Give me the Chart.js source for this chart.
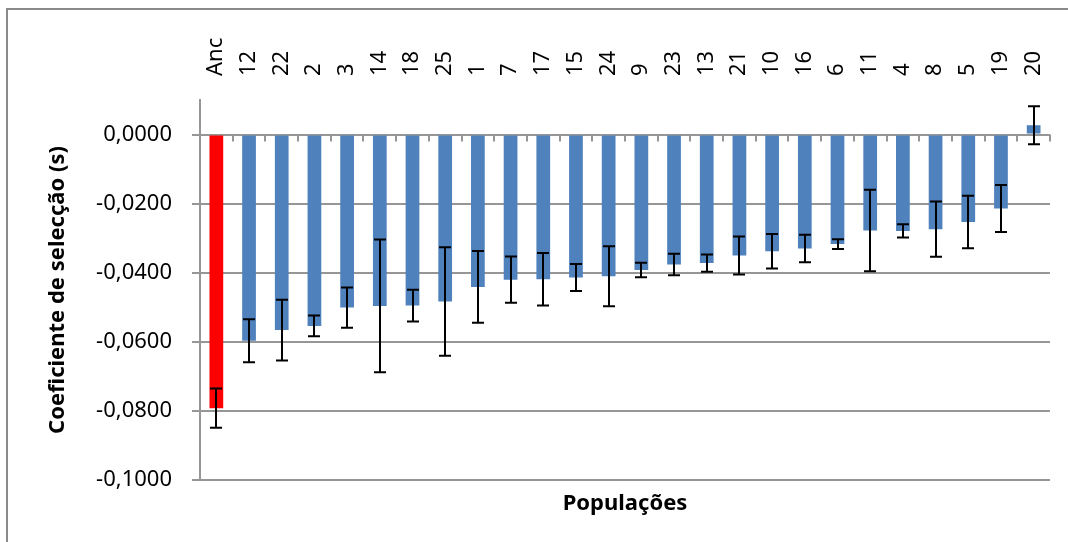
<!DOCTYPE html>
<html>
<head>
<meta charset="utf-8">
<title>Coeficiente de selecção</title>
<script src="https://cdn.jsdelivr.net/npm/chart.js"></script>
<style>
html, body { margin:0; padding:0; background:#fff; }
#wrap { width:1068px; height:542px; }
</style>
</head>
<body>
<div id="wrap"><canvas id="chart" width="1068" height="542"></canvas></div>
<script>

// -------- DATA --------
const categories = ['Anc','12','22','2','3','14','18','25','1','7','17','15','24','9','23','13','21','10','16','6','11','4','8','5','19','20'];

const values = [-0.0792, -0.0597, -0.0566, -0.0554, -0.0501, -0.0496, -0.0495, -0.0483, -0.0441, -0.0420,
                -0.0419, -0.0414, -0.0410, -0.0392, -0.0376, -0.0372, -0.0350, -0.0338, -0.0330, -0.0317,
                -0.0278, -0.0279, -0.0274, -0.0253, -0.0214, 0.0027];

const errors = [0.0057, 0.0062, 0.0088, 0.0030, 0.0058, 0.0192, 0.0046, 0.0157, 0.0104, 0.0067,
                0.0076, 0.0039, 0.0087, 0.0021, 0.0031, 0.0025, 0.0055, 0.0050, 0.0040, 0.0014,
                0.0118, 0.0019, 0.0080, 0.0076, 0.0068, 0.0055];

const yTicks = [0, -0.02, -0.04, -0.06, -0.08, -0.1];

const FONT = "'Noto Sans', 'DejaVu Sans', sans-serif";
const GRID = '#969696';

// white background + outer frame
const frame = {
    id: 'frame',
    beforeDraw(chart) {
        const ctx = chart.ctx;
        ctx.save();
        ctx.fillStyle = '#fff';
        ctx.fillRect(0, 0, chart.width, chart.height);
        ctx.strokeStyle = '#8a8a8a';
        ctx.lineWidth = 2;
        ctx.strokeRect(7, 9, chart.width + 20, chart.height + 20);
        ctx.restore();
    }
};

// small tick marks on the zero line, between categories
const zeroTicks = {
    id: 'zeroTicks',
    beforeDatasetsDraw(chart) {
        const x = chart.scales.x, y = chart.scales.y;
        const ctx = chart.ctx;
        const y0 = y.getPixelForValue(0);
        const step = x.getPixelForValue(1) - x.getPixelForValue(0);
        ctx.save();
        ctx.strokeStyle = GRID;
        ctx.lineWidth = 2;
        ctx.beginPath();
        for (let i = 0; i <= categories.length; i++) {
            const px = Math.round(x.getPixelForValue(0) - step / 2 + i * step);
            ctx.moveTo(px, y0);
            ctx.lineTo(px, y0 + 7);
        }
        ctx.stroke();
        ctx.restore();
    }
};

// error bars
const errorBars = {
    id: 'errorBars',
    afterDatasetsDraw(chart) {
        const y = chart.scales.y;
        const meta = chart.getDatasetMeta(0);
        const ctx = chart.ctx;
        ctx.save();
        ctx.strokeStyle = '#000';
        ctx.lineWidth = 2;
        meta.data.forEach((bar, i) => {
            const cx = Math.round(bar.x);
            const top = y.getPixelForValue(values[i] + errors[i]);
            const bot = y.getPixelForValue(values[i] - errors[i]);
            ctx.beginPath();
            ctx.moveTo(cx, top);
            ctx.lineTo(cx, bot);
            ctx.moveTo(cx - 6, top);
            ctx.lineTo(cx + 6, top);
            ctx.moveTo(cx - 6, bot);
            ctx.lineTo(cx + 6, bot);
            ctx.stroke();
        });
        ctx.restore();
    }
};

new Chart(document.getElementById('chart'), {
    type: 'bar',
    data: {
        labels: categories,
        datasets: [{
            data: values,
            backgroundColor: categories.map(c => c === 'Anc' ? '#FF0000' : '#4F81BD'),
            categoryPercentage: 1,
            barPercentage: 0.42
        }]
    },
    options: {
        responsive: false,
        animation: false,
        layout: { padding: { left: 0, right: 18, top: 0, bottom: 0 } },
        plugins: {
            legend: { display: false },
            tooltip: { enabled: false }
        },
        scales: {
            x: {
                position: 'top',
                grid: { display: false, drawTicks: false },
                border: { display: false },
                ticks: {
                    autoSkip: false,
                    maxRotation: 90,
                    minRotation: 90,
                    padding: 24,
                    labelOffset: 26,
                    color: '#000',
                    font: { family: FONT, size: 22 }
                },
                afterFit(axis) { axis.height = 100; }
            },
            x2: {
                type: 'category',
                labels: categories,
                position: 'bottom',
                grid: { display: false, drawTicks: false },
                border: { display: false },
                ticks: { display: false },
                title: {
                    display: true,
                    text: 'Populações',
                    color: '#000',
                    font: { family: FONT, size: 22, weight: 'bold' },
                    padding: { top: 0, bottom: 25 }
                },
                afterFit(axis) { axis.height = 62; }
            },
            y: {
                min: -0.1,
                max: 0.01,
                afterBuildTicks(axis) {
                    axis.ticks = yTicks.map(v => ({ value: v }));
                },
                grid: { color: GRID, lineWidth: 2, tickLength: 8 },
                border: { color: GRID, width: 2 },
                ticks: {
                    padding: 20,
                    color: '#000',
                    font: { family: FONT, size: 22 },
                    callback: v => (Math.abs(v) < 1e-9 ? 0 : v).toFixed(4).replace('.', ',')
                },
                title: {
                    display: true,
                    text: 'Coeficiente de selecção (s)',
                    color: '#000',
                    font: { family: FONT, size: 22, weight: 'bold' },
                    padding: { top: 45, bottom: 0 }
                },
                afterFit(axis) { axis.width = 200; }
            }
        }
    },
    plugins: [frame, zeroTicks, errorBars]
});

</script>
</body>
</html>
